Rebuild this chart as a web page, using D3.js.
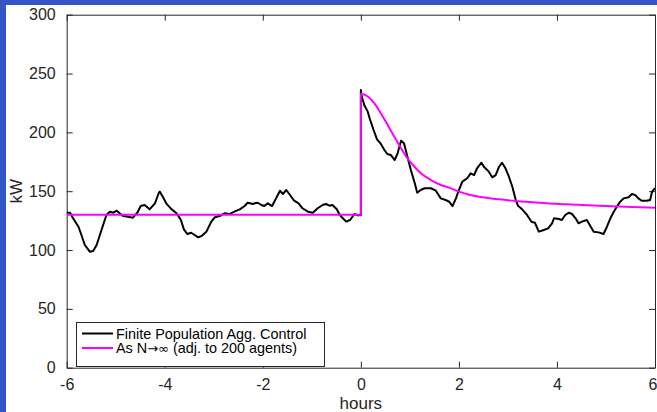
<!DOCTYPE html>
<html>
<head>
<meta charset="utf-8">
<script src="https://cdn.jsdelivr.net/npm/d3@7"></script>
<style>
  html, body { margin: 0; padding: 0; background: #ffffff; }
  svg { display: block; font-family: "Liberation Sans", Arial, Helvetica, sans-serif; }
</style>
</head>
<body>
<script>
// ---- data ----
const blackHours = [-6.00,-5.93,-5.87,-5.76,-5.70,-5.63,-5.53,-5.46,-5.39,-5.29,-5.19,-5.12,-5.05,-4.98,-4.92,-4.85,-4.75,-4.65,-4.56,-4.49,-4.41,-4.31,-4.20,-4.12,-4.10,-4.04,-3.97,-3.86,-3.76,-3.67,-3.61,-3.54,-3.46,-3.39,-3.32,-3.25,-3.15,-3.05,-2.98,-2.88,-2.78,-2.68,-2.58,-2.47,-2.37,-2.31,-2.20,-2.17,-2.10,-2.03,-1.97,-1.90,-1.81,-1.73,-1.65,-1.59,-1.52,-1.46,-1.36,-1.27,-1.19,-1.08,-0.98,-0.88,-0.78,-0.71,-0.64,-0.58,-0.49,-0.43,-0.30,-0.22,-0.13,-0.07,0.00,0.00,0.01,0.07,0.14,0.19,0.26,0.33,0.40,0.48,0.54,0.61,0.69,0.75,0.82,0.88,0.95,1.02,1.10,1.15,1.22,1.30,1.43,1.53,1.63,1.73,1.80,1.87,1.94,2.00,2.07,2.17,2.24,2.31,2.37,2.46,2.51,2.61,2.68,2.75,2.82,2.88,2.95,3.02,3.09,3.16,3.21,3.29,3.39,3.48,3.55,3.63,3.73,3.82,3.90,3.94,4.04,4.10,4.17,4.24,4.31,4.38,4.44,4.51,4.61,4.68,4.75,4.85,4.95,5.02,5.09,5.16,5.22,5.29,5.36,5.46,5.53,5.60,5.66,5.73,5.83,5.90,5.94,6.00];
const blackKW = [131.7,131.7,127,119.8,112.8,104.3,98.6,99.2,104.3,117,129.8,132.6,131.7,133.4,131.2,128.9,128.3,127.5,131.7,137.4,138.3,134.6,139.7,148.7,149.6,145.3,139.7,134.6,131.2,125.5,117.6,113.6,114.7,112.8,110.8,111.9,115.6,124.1,127.8,128.9,131.2,130.6,132.6,134.6,137.4,140.2,139.1,139.7,140.2,138.3,137.4,139.7,137.4,143.9,150.4,147.6,151,147.6,141.9,139.7,135.5,132.6,131.7,135.5,138.3,139.1,137.7,138.3,134.6,129.8,124.1,125.5,130.6,129.5,129.5,236,231.7,223.3,217.6,210.5,202,194.1,190.7,185,181.6,180.8,176.5,182.2,192.9,190.7,179.3,168,156.7,148.7,151,152.5,152.5,150.4,143.9,142.5,141.1,137.4,143.9,151,158.1,161,165.2,163.7,169.5,174.2,170.8,166.6,161.8,163.7,170.8,174.2,169.5,162.3,153.8,142.5,137.4,134.6,129.8,124.1,123.2,115.6,117,118.4,122.7,127,126.4,125.5,129.8,131.7,130.6,127,122.7,124.1,125.5,120.4,115.6,115,113.6,119.8,127,132.6,136.8,141.1,143.9,144.8,147.6,146.7,143.9,141.9,141.9,142.5,149.6,152.5];

const magentaFlatHours = [-6, 0, 0];
const magentaFlatKW = [130, 130, 233];
const magentaHours = [0, 0.14, 0.27, 0.41, 0.55, 0.68, 0.82, 0.95, 1.09, 1.23, 1.43, 1.63, 1.80, 2.00, 2.21, 2.48, 2.82, 3.16, 3.50, 3.84, 4.17, 4.85, 5.53, 6.00];
const magentaKW = [233, 230.5, 225, 216, 206, 196.5, 186.5, 178, 171, 165, 159.5, 155.3, 153, 149.6, 147, 144.8, 143.1, 141.7, 140.6, 139.6, 139, 137.7, 136.6, 136];

const xTicks = [-6, -4, -2, 0, 2, 4, 6];
const yTicks = [0, 50, 100, 150, 200, 250, 300];
const legendLabel1 = "Finite Population Agg. Control";
const legendLabel2 = ["As N", "\u2192\u221E", " (adj. to 200 agents)"];
const xLabel = "hours";
const yLabel = "kW";

// ---- layout ----
const W = 657, H = 412;
const m = { left: 66.7, right: 655, top: 14.7, bottom: 367.7 };
const axisColor = "#262626";

const svg = d3.select("body").append("svg").attr("width", W).attr("height", H);
svg.append("rect").attr("x", 0).attr("y", 0).attr("width", W).attr("height", H).attr("fill", "#ffffff");
// blue frame strips (left and top)
svg.append("rect").attr("x", 0).attr("y", 0).attr("width", 6).attr("height", H).attr("fill", "#3355c8");
svg.append("rect").attr("x", 0).attr("y", 0).attr("width", W).attr("height", 5).attr("fill", "#3355c8");

const x = d3.scaleLinear().domain([-6, 6]).range([m.left, m.right]);
const y = d3.scaleLinear().domain([0, 300]).range([m.bottom, m.top]);

const fmt = d => String(d);
const tickLen = 6;
const gx = svg.append("g").attr("transform", `translate(0,${m.bottom})`)
  .call(d3.axisBottom(x).tickValues(xTicks).tickSizeInner(-tickLen).tickSizeOuter(0).tickPadding(tickLen + 5).tickFormat(fmt));
const gxt = svg.append("g").attr("transform", `translate(0,${m.top})`)
  .call(d3.axisTop(x).tickValues(xTicks).tickSizeInner(-tickLen).tickSizeOuter(0).tickFormat(""));
const gy = svg.append("g").attr("transform", `translate(${m.left},0)`)
  .call(d3.axisLeft(y).tickValues(yTicks).tickSizeInner(-tickLen).tickSizeOuter(0).tickPadding(tickLen + 5).tickFormat(fmt));
const gyr = svg.append("g").attr("transform", `translate(${m.right},0)`)
  .call(d3.axisRight(y).tickValues(yTicks).tickSizeInner(-tickLen).tickSizeOuter(0).tickFormat(""));

[gx, gxt, gy, gyr].forEach(g => {
  g.select(".domain").attr("stroke", axisColor).attr("stroke-width", 1);
  g.selectAll(".tick line").attr("stroke", axisColor).attr("stroke-width", 1);
  g.selectAll(".tick text").attr("fill", axisColor).style("font-size", "16px").style("font-family", "Liberation Sans, Arial, sans-serif");
});
// keep the last x label inside the picture (reference shows it touching the edge)
gx.selectAll(".tick text").filter(d => d === 6).attr("text-anchor", "end").attr("dx", 2);

// axis labels
svg.append("text").attr("x", (m.left + m.right) / 2).attr("y", 409)
  .attr("text-anchor", "middle").attr("fill", axisColor).style("font-size", "17px").text(xLabel);
svg.append("text").attr("transform", `translate(22,${(m.top + m.bottom) / 2}) rotate(-90)`)
  .attr("text-anchor", "middle").attr("fill", axisColor).style("font-size", "17px").text(yLabel);

// lines
const line = d3.line().x(d => x(d[0])).y(d => y(d[1])).curve(d3.curveLinear);
const smooth = d3.line().x(d => x(d[0])).y(d => y(d[1])).curve(d3.curveMonotoneX);

svg.append("clipPath").attr("id", "clip").append("rect")
  .attr("x", m.left).attr("y", m.top).attr("width", m.right - m.left).attr("height", m.bottom - m.top);
const plot = svg.append("g").attr("clip-path", "url(#clip)");

plot.append("path").datum(blackHours.map((h, i) => [h, blackKW[i]]))
  .attr("d", line).attr("fill", "none").attr("stroke", "#000000").attr("stroke-width", 2).attr("stroke-linejoin", "round");
plot.append("path").datum(magentaFlatHours.map((h, i) => [h, magentaFlatKW[i]]))
  .attr("d", line).attr("fill", "none").attr("stroke", "#ff00ff").attr("stroke-width", 2);
plot.append("path").datum(magentaHours.map((h, i) => [h, magentaKW[i]]))
  .attr("d", smooth).attr("fill", "none").attr("stroke", "#ff00ff").attr("stroke-width", 2);

// legend
const lg = svg.append("g");
lg.append("rect").attr("x", 76.5).attr("y", 322.5).attr("width", 248).attr("height", 44)
  .attr("fill", "#ffffff").attr("stroke", axisColor).attr("stroke-width", 1);
const y1 = 333.5, y2 = 348;
lg.append("line").attr("x1", 82).attr("x2", 113).attr("y1", y1).attr("y2", y1).attr("stroke", "#000000").attr("stroke-width", 2);
lg.append("text").attr("x", 116).attr("y", y1 + 5).attr("fill", "#000000").style("font-size", "14.4px").text(legendLabel1);
lg.append("line").attr("x1", 82).attr("x2", 113).attr("y1", y2).attr("y2", y2).attr("stroke", "#ff00ff").attr("stroke-width", 2);
const t2 = lg.append("text").attr("x", 116).attr("y", y2 + 5).attr("fill", "#000000").style("font-size", "14.4px");
t2.append("tspan").text(legendLabel2[0]);
t2.append("tspan").style("font-family", "DejaVu Sans, sans-serif").style("font-size", "13px").text(legendLabel2[1]);
t2.append("tspan").text(legendLabel2[2]);
</script>
</body>
</html>
